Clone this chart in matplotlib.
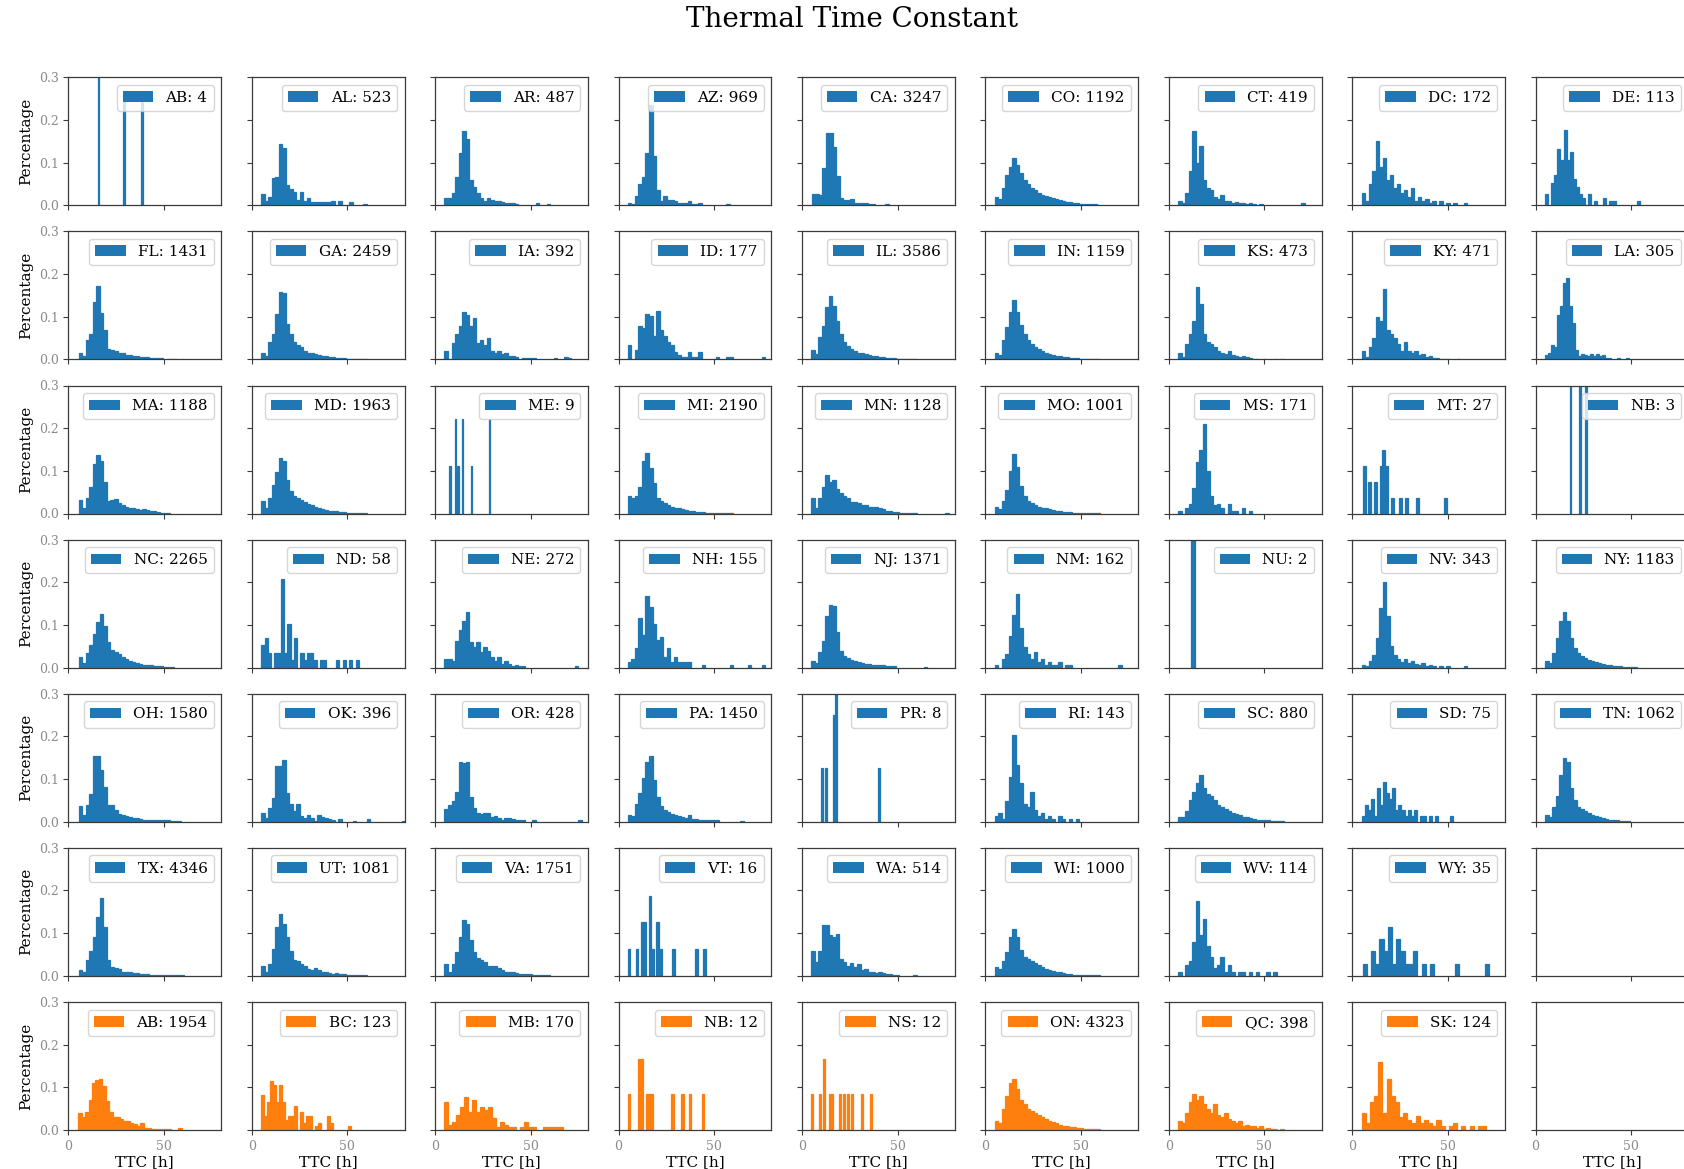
import numpy as np
import matplotlib
matplotlib.use("Agg")
import matplotlib.pyplot as plt

plt.rcParams['font.family'] = ['DejaVu Serif']

# ---------------- data ----------------
us_states = ["AB", "AL", "AR", "AZ", "CA", "CO", "CT", "DC", "DE",
             "FL", "GA", "IA", "ID", "IL", "IN", "KS", "KY", "LA",
             "MA", "MD", "ME", "MI", "MN", "MO", "MS", "MT", "NB",
             "NC", "ND", "NE", "NH", "NJ", "NM", "NU", "NV", "NY",
             "OH", "OK", "OR", "PA", "PR", "RI", "SC", "SD", "TN",
             "TX", "UT", "VA", "VT", "WA", "WI", "WV", "WY"]
us_counts = [4, 523, 487, 969, 3247, 1192, 419, 172, 113,
             1431, 2459, 392, 177, 3586, 1159, 473, 471, 305,
             1188, 1963, 9, 2190, 1128, 1001, 171, 27, 3,
             2265, 58, 272, 155, 1371, 162, 2, 343, 1183,
             1580, 396, 428, 1450, 8, 143, 880, 75, 1062,
             4346, 1081, 1751, 16, 514, 1000, 114, 35]
# first bin edge [h] and bin width [h] of each histogram
us_bin_start = [15.5, 4.9, 4.9, 4.9, 5.05, 5.0, 5.0, 5.0, 5.05,
                5.5, 4.9, 4.9, 4.9, 4.9, 5.0, 5.0, 5.0, 5.05,
                5.5, 4.9, 7.4, 4.9, 4.9, 5.0, 5.0, 5.6, 17.8,
                5.5, 5.0, 4.9, 4.9, 4.9, 5.0, 11.5, 5.0, 5.0,
                5.5, 4.9, 4.9, 4.9, 10.2, 5.0, 5.0, 5.0, 5.0,
                5.5, 4.9, 4.9, 4.9, 4.9, 5.0, 5.0, 5.5]
us_bin_width = [0.78, 1.84, 1.84, 1.84, 1.84, 1.84, 1.84, 1.84, 1.6,
                1.84, 1.84, 1.84, 1.84, 1.84, 1.84, 1.84, 1.84, 1.57,
                1.84, 1.84, 0.713, 1.84, 1.84, 1.84, 1.84, 1.47, 0.82,
                1.84, 1.7, 1.84, 1.84, 1.84, 1.84, 2.3, 1.84, 1.84,
                1.84, 1.84, 1.84, 1.84, 1.013, 1.84, 1.84, 1.6, 1.84,
                1.84, 1.84, 1.84, 1.36, 1.84, 1.84, 1.84, 2.2]
# bin heights in percent of the state's samples
us_pct = [
    [50, 0, 0, 0, 0, 0, 0, 0, 0, 0, 0, 0, 0, 0, 0, 0, 0, 25, 0, 0, 0, 0, 0, 0, 0, 0, 0, 0, 0, 25],
    [2.7, 1.0, 2.0, 6.3, 6.6, 14.4, 13.4, 4.8, 3.8, 3.2, 1.3, 3.1, 1.0, 1.7, 0.8, 0.7, 0.7, 0.7, 0.8, 0.8, 0.9, 0, 0.9, 0, 0, 0.7, 0, 0, 0, 0.2],
    [1.6, 1.8, 2.8, 6.7, 12.2, 17.3, 15.5, 5.9, 4.4, 2.8, 1.8, 1.0, 1.6, 1.2, 0.9, 1.0, 0.8, 0.6, 0.5, 0.6, 0.4, 0, 0, 0, 0, 0, 0.6, 0, 0, 0.2],
    [0.5, 0.3, 2.2, 4.9, 6.7, 12.2, 23.5, 11.6, 3.6, 1.1, 2.2, 1.25, 1.25, 0.9, 0.5, 0.6, 0.6, 0.9, 0.4, 0.4, 0.5, 0, 0, 0, 0, 0, 0, 0, 0.25, 0],
    [2.6, 2.6, 2.4, 8.7, 16.9, 16.9, 13.6, 6.9, 1.6, 1.25, 1.25, 1.4, 0.5, 0.5, 0.5, 0.5, 0.4, 0.4, 0, 0, 0, 0.2],
    [2, 1.5, 4, 7, 9, 11, 9.5, 7.5, 6, 5, 4, 3.5, 3, 2.5, 2.2, 2, 1.6, 1.4, 1.2, 1, 0.8, 0.7, 0.6, 0.5, 0.4, 0.3, 0.3, 0.2, 0.2, 0.1],
    [1, 0.5, 3, 8, 17.5, 10, 14, 6, 4, 3.5, 2, 1.5, 2.5, 1, 1, 0.5, 0.7, 0.5, 0.5, 0.2, 0.5, 0.2, 0, 0.2, 0, 0, 0, 0, 0, 0, 0, 0, 0, 0, 0, 0.5],
    [3, 1, 5, 8, 15, 9, 11, 6, 7, 4, 5, 3, 3.5, 2, 4, 1, 2, 1, 1.5, 0.6, 1, 0, 1, 0, 0.6, 0, 0.6, 0, 0, 0.6],
    [2.7, 0, 5.3, 7.1, 13.3, 10.6, 17.7, 10.6, 12.4, 6.2, 4.4, 2.7, 1.8, 0, 2.7, 0, 0.9, 0, 0, 1.8, 0, 0.9, 0.9, 0, 0, 0, 0, 0, 0, 0, 0.9],
    [1.4, 0.9, 4.5, 5.9, 13.4, 17.1, 10.8, 7.0, 2.4, 2.1, 2.0, 1.6, 1.4, 1.1, 1.0, 0.9, 0.7, 0.6, 0.5, 0.5, 0.4, 0.3, 0.3, 0.3, 0, 0.2, 0.2, 0.2, 0, 0.2],
    [1.4, 0.9, 4.0, 5.9, 10.6, 15.9, 15.5, 8.3, 5.9, 4.0, 3.4, 2.8, 1.9, 1.6, 1.4, 1.25, 1.1, 0.9, 0.7, 0.6, 0.5, 0.4, 0.3, 0.3, 0.2, 0.2, 0.2, 0.2, 0.1, 0.1],
    [2.0, 0, 3.8, 5.9, 7.9, 11.2, 10.5, 7.9, 9.7, 3.8, 4.6, 3.3, 5.1, 2.0, 1.5, 2.0, 1.3, 1.5, 0.8, 0.8, 0.5, 0, 0.3, 0.3, 0.3, 0.3, 0, 0, 0, 0, 0, 0.3, 0, 0, 0.5, 0.3],
    [3.4, 0, 2.3, 7.9, 7.3, 10.7, 10.2, 5.6, 11.3, 6.8, 5.6, 4.0, 3.4, 1.7, 1.1, 0.6, 0.6, 1.7, 0.6, 0.6, 1.7, 0, 0, 0, 0, 0.6, 0, 0, 0.6, 0.6, 0, 0, 0, 0, 0, 0, 0, 0, 0.6],
    [2.2, 1.25, 5.2, 7.9, 12.2, 14.8, 12.4, 9.1, 5.9, 4.1, 3.2, 2.4, 1.9, 1.6, 1.4, 1.25, 1.1, 0.9, 0.8, 0.6, 0.5, 0.4, 0.3, 0.25, 0.2, 0.2, 0.1, 0.1, 0.1, 0.1],
    [1.5, 1.0, 4.5, 7.5, 11, 14, 11, 8, 6, 4.5, 3.5, 3, 2.5, 2, 1.6, 1.3, 1.1, 0.9, 0.7, 0.6, 0.5, 0.4, 0.3, 0.3, 0.2, 0.2, 0.1, 0.1, 0.1, 0.1],
    [1.5, 0.5, 3.5, 6, 9, 17, 13, 6, 4, 3.5, 3, 2, 1.5, 1.2, 2, 1, 0.8, 0.6, 0.8, 0.5, 0.4, 0.2, 0.2, 0, 0.2, 0, 0, 0.2, 0, 0.2],
    [2, 0.5, 3, 5, 10, 9, 16.5, 7, 6, 5, 3.5, 2, 4, 2, 1.5, 2, 1, 1.2, 0.6, 0.8, 0.4, 0.4, 0.2, 0.2, 0.2, 0, 0, 0.2],
    [1.0, 1.6, 3.3, 3.0, 10.5, 12.5, 18.0, 19.0, 12.5, 8.5, 2.3, 0.7, 1.3, 1.0, 0.7, 1.3, 0.7, 1.3, 0.7, 1.0, 0.3, 0.3, 0, 0, 0.3, 0, 0, 0.3],
    [3.2, 1.25, 3.6, 6.3, 11.6, 13.75, 12.2, 7.5, 3.0, 3.2, 3.4, 2.4, 2.0, 1.6, 1.4, 1.25, 1.0, 0.8, 1.1, 0.9, 0.6, 0.5, 0.4, 0.2, 0.1, 0.1],
    [3.0, 1.25, 3.6, 6.7, 9.8, 13.1, 12.2, 7.9, 5.2, 4.0, 3.6, 3.2, 2.7, 2.2, 1.9, 1.6, 1.4, 1.1, 0.9, 0.7, 0.55, 0.5, 0.4, 0.3, 0.2, 0.2, 0.2, 0.2, 0.1, 0.1],
    [11.1, 0, 0, 0, 22.2, 0, 11.1, 0, 0, 22.2, 0, 0, 0, 0, 0, 0, 11.1, 0, 0, 0, 0, 0, 0, 0, 0, 0, 0, 0, 0, 22.2],
    [4.2, 3.6, 4.0, 6.3, 12.2, 14.1, 10.6, 7.1, 3.6, 3.0, 2.4, 2.0, 1.6, 1.4, 1.25, 1.0, 0.8, 0.6, 0.5, 0.4, 0.3, 0.25, 0.2, 0.2, 0.1, 0.1, 0.1, 0.1, 0.1, 0.1],
    [3.6, 1.4, 3.6, 6.3, 9.1, 7.5, 7.9, 5.8, 4.8, 4.0, 3.6, 2.8, 2.7, 2.4, 1.9, 1.9, 1.6, 1.6, 1.6, 1.4, 1.0, 0.6, 0.5, 0.3, 0.3, 0.2, 0.2, 0.2, 0.2, 0.2, 0, 0, 0, 0, 0, 0, 0, 0, 0.2],
    [1.5, 1.0, 3, 5.5, 10, 14, 11, 6.5, 4, 3, 2.5, 2, 1.6, 1.4, 1.2, 1, 0.8, 0.6, 0.5, 0.4, 0.3, 0.3, 0.2, 0.2, 0.1, 0.1, 0.1, 0.1, 0.1, 0.1],
    [0.6, 0, 1.2, 2.3, 6, 12, 15, 21, 10, 4, 2, 2.3, 1.2, 0, 2.3, 0.6, 0.6, 0, 1.2, 0, 0.6],
    [11.1, 0, 7.4, 0, 7.4, 0, 11.1, 14.8, 11.1, 0, 3.7, 0, 0, 3.7, 0, 3.7, 0, 0, 0, 3.7, 0, 0, 0, 0, 0, 0, 0, 0, 0, 3.7],
    [33.3, 0, 0, 0, 0, 0, 33.3, 0, 0, 0, 33.3],
    [2.4, 1.0, 3.4, 5.2, 7.9, 10.6, 12.6, 9.8, 5.9, 4.2, 3.6, 3.2, 2.6, 2.0, 1.5, 1.4, 1.1, 0.9, 0.6, 0.6, 0.5, 0.4, 0.3, 0.3, 0.2, 0.1, 0.1],
    [5.2, 6.9, 3.4, 0, 3.4, 3.4, 20.7, 3.4, 10.3, 1.7, 6.9, 0, 3.4, 1.7, 3.4, 3.4, 1.7, 0, 1.7, 1.7, 0, 0, 0, 1.7, 0, 1.7, 0, 1.7, 0, 1.7],
    [2.0, 2.0, 1.5, 6.3, 8.7, 11.0, 13.1, 5.9, 4.8, 5.9, 3.6, 4.8, 4.0, 2.4, 1.5, 2.4, 0.8, 1.5, 0.8, 0.4, 0.7, 0.4, 0.4, 0, 0, 0, 0, 0, 0, 0, 0, 0, 0, 0, 0, 0, 0, 0.4],
    [1.3, 1.9, 4.5, 11.6, 7.7, 16.8, 14.2, 10.3, 6.5, 7.1, 2.6, 4.5, 1.3, 2.6, 1.3, 1.3, 1.3, 1.3, 0, 0, 0, 0.65, 0, 0, 0, 0, 0, 0, 0, 0.65, 0, 0, 0, 0, 0.65, 0, 0, 0, 0.65],
    [1.6, 1.0, 3.6, 6.3, 12.2, 14.7, 14.4, 8.4, 4.0, 2.8, 2.2, 1.8, 1.6, 1.25, 1.1, 0.9, 0.8, 0.6, 0.6, 0.5, 0.5, 0.4, 0.3, 0.3, 0, 0, 0, 0, 0, 0, 0, 0, 0.2],
    [0.6, 0, 1.9, 3.1, 7.4, 12.3, 17.3, 9.3, 4.9, 3.1, 1.9, 3.7, 1.2, 1.9, 0.6, 1.2, 0.6, 0.6, 1.2, 0, 0.6, 0.6, 0, 0, 0, 0, 0, 0, 0, 0, 0, 0, 0, 0, 0, 0.6],
    [100],
    [0.6, 0.3, 1.5, 3, 7, 14, 20, 12, 5, 3, 2, 1.2, 2, 1, 1.5, 0.9, 0.6, 1, 0.3, 0.6, 0.3, 0, 0.3, 0, 0.3, 0, 0, 0, 0, 0.3],
    [1.5, 1, 3.5, 7, 11, 13, 11, 7, 4.5, 3.5, 2.8, 2.2, 1.8, 1.5, 1.2, 1, 0.8, 0.6, 0.5, 0.4, 0.3, 0.3, 0.2, 0.2, 0.1, 0.1],
    [3.75, 1.6, 4.0, 6.6, 15.5, 15.3, 12.2, 8.1, 4.0, 3.8, 2.7, 1.9, 1.6, 1.25, 1.1, 0.9, 0.8, 0.6, 0.5, 0.5, 0.4, 0.4, 0.3, 0.3, 0.3, 0.3, 0.2, 0.2, 0.2],
    [2.0, 0.8, 3.2, 5.5, 13.0, 13.1, 14.5, 6.7, 4.2, 2.4, 4.2, 1.4, 0.9, 1.5, 0.9, 0.25, 1.5, 1.0, 0.8, 0.6, 0.5, 0, 0.6, 0, 0, 0, 0.25, 0, 0, 0, 0.6, 0, 0, 0, 0, 0, 0, 0, 0, 0, 0.25],
    [3.0, 4.0, 4.8, 6.9, 13.9, 13.75, 13.9, 5.9, 3.2, 2.0, 1.9, 2.0, 2.0, 1.1, 1.4, 0.9, 0.5, 0.9, 0.8, 0.6, 0.5, 0.3, 0.3, 0, 0, 0.3, 0, 0, 0, 0, 0, 0, 0, 0, 0, 0, 0, 0, 0.5],
    [1.6, 1.25, 4.2, 6.7, 10.2, 14.1, 15.5, 9.8, 5.9, 3.6, 2.8, 2.2, 1.9, 1.6, 1.4, 1.1, 0.9, 1.5, 0.6, 0.6, 0.5, 0.5, 0.4, 0.3, 0.3, 0.3, 0, 0, 0, 0, 0, 0, 0.2],
    [12.5, 0, 12.5, 0, 0, 0, 25, 37.5, 0, 0, 0, 0, 0, 0, 0, 0, 0, 0, 0, 0, 0, 0, 0, 0, 0, 0, 0, 0, 0, 12.5],
    [1.4, 2.1, 0.7, 4.9, 10.5, 20.3, 13.3, 9.1, 4.2, 3.5, 7.0, 2.8, 1.4, 2.1, 0.7, 1.4, 0.7, 0, 1.4, 0.7, 0, 0.7, 0, 0.7],
    [1, 1, 2.5, 5, 7, 9, 11, 8, 6.5, 6, 5, 4, 3.5, 3, 2.5, 2, 1.8, 1.5, 1.2, 1, 0.8, 0.6, 0.5, 0.4, 0.3, 0.3, 0.2, 0.2, 0.1, 0.1],
    [1.3, 4, 2.7, 5.3, 1.3, 8, 4, 9.3, 6.7, 5.3, 8, 2.7, 4, 2.7, 1.3, 2.7, 1.3, 2.7, 0, 1.3, 1.3, 0, 1.3, 0, 1.3, 0, 0, 0, 0, 1.3],
    [1.5, 1, 3.5, 6, 11, 15, 14, 8, 5, 3.5, 3, 2.5, 2, 1.6, 1.3, 1, 0.8, 0.6, 0.5, 0.4, 0.3, 0.2, 0.2, 0.1],
    [1.4, 0.9, 3.75, 5.9, 9.1, 13.75, 18.3, 11.4, 3.75, 2.0, 1.9, 1.5, 1.0, 1.0, 0.9, 0.7, 0.6, 0.5, 0.45, 0.4, 0.3, 0.3, 0.2, 0.2, 0.15, 0.1, 0.1, 0.1, 0.1, 0.1],
    [2.4, 0.9, 2.8, 6.3, 11.4, 14.5, 12.2, 9.1, 5.9, 3.6, 3.4, 2.8, 2.2, 1.6, 1.4, 1.9, 1.4, 1.0, 0.9, 0.6, 0.5, 0.6, 0.5, 0.4, 0.3, 0.2, 0.2, 0.2, 0.2, 0.2],
    [2.8, 0.9, 2.8, 5.5, 9.1, 13.0, 12.2, 8.3, 5.5, 4.2, 3.6, 3.2, 2.4, 2.2, 2.3, 1.8, 1.4, 1.0, 0.9, 0.8, 0.6, 0.5, 0.45, 0.4, 0.35, 0.3, 0.3, 0.2, 0.2, 0.2],
    [6.25, 0, 0, 6.25, 0, 12.5, 12.5, 0, 18.75, 6.25, 0, 12.5, 6.25, 0, 0, 0, 0, 6.25, 0, 0, 0, 0, 0, 0, 0, 0, 6.25, 0, 0, 6.25],
    [5.9, 3.2, 5.9, 11.8, 12.0, 9.5, 9.1, 9.8, 4.0, 3.2, 2.4, 3.0, 2.0, 2.8, 1.25, 1.6, 0.8, 0.8, 0.6, 0.8, 0.6, 0.4, 0.4, 0.2, 0.2, 0, 0, 0, 0, 0.2],
    [2, 1.5, 3.5, 5.5, 9, 11, 9, 6, 4.5, 4, 3.5, 3, 2.5, 2, 1.6, 1.4, 1.2, 1, 0.8, 0.6, 0.5, 0.4, 0.3, 0.3, 0.2, 0.2, 0.1, 0.1, 0.1, 0.1],
    [0.9, 0, 2.6, 3.5, 7.9, 17.5, 9.6, 13.2, 7.0, 4.4, 1.8, 2.6, 4.4, 0.9, 2.6, 0.9, 0, 0.9, 0.9, 0, 0.9, 0, 0.9, 0, 0, 0.9, 0, 0.9],
    [2.86, 0, 5.7, 2.86, 8.6, 5.7, 11.4, 2.86, 8.6, 5.7, 2.86, 2.86, 5.7, 0, 2.86, 0, 2.86, 0, 0, 0, 0, 0, 2.86, 0, 0, 0, 0, 0, 0, 2.86],
]

ca_provinces = ["AB", "BC", "MB", "NB", "NS", "ON", "QC", "SK"]
ca_counts = [1954, 123, 170, 12, 12, 4323, 398, 124]
ca_bin_start = [5.2, 4.9, 4.9, 4.9, 4.9, 5.0, 5.0, 5.0]
ca_bin_width = [1.8, 1.57, 2.07, 1.33, 1.05, 1.84, 1.84, 2.17]
ca_pct = [
    [3.9, 3.1, 4.1, 7.0, 10.9, 11.7, 12.0, 10.3, 6.8, 4.3, 3.1, 3.0, 2.5, 2.0, 2.2, 1.6, 1.3, 1.0, 1.7, 0.5, 0.4, 0.2, 0.2, 0.2, 0.2, 0.2, 0.1, 0, 0, 0.5],
    [8.1, 3.3, 6.5, 11.4, 10.6, 6.5, 10.6, 6.5, 2.4, 3.3, 3.3, 5.7, 0, 4.1, 1.6, 3.3, 3.3, 0, 0.8, 1.6, 0, 0, 3.3, 1.6, 0, 0, 0, 0, 0, 0.8],
    [6.5, 1.2, 1.8, 3.5, 5.3, 7.6, 4.1, 7.1, 4.1, 5.3, 4.7, 5.3, 2.9, 0.6, 1.8, 1.2, 0.6, 0.6, 0, 0.6, 1.8, 0.6, 0.6, 0, 0, 0.6, 0.6, 0.6, 0.6, 0.6],
    [8.3, 0, 0, 0, 16.7, 16.7, 0, 8.3, 8.3, 8.3, 0, 0, 0, 0, 0, 0, 0, 8.3, 0, 0, 0, 8.3, 0, 0, 8.3, 0, 0, 0, 0, 8.3],
    [8.3, 0, 0, 0, 8.3, 0, 16.7, 0, 0, 8.3, 8.3, 0, 0, 0, 8.3, 0, 8.3, 0, 8.3, 0, 8.3, 0, 0, 0, 0, 8.3, 0, 0, 0, 8.3],
    [2, 1.5, 5, 8, 11, 12, 9.5, 7, 6, 5, 4.5, 4, 3.5, 3, 2.5, 2.2, 1.8, 1.5, 1.2, 1, 0.8, 0.7, 0.6, 0.5, 0.4, 0.3, 0.3, 0.2, 0.2, 0.1],
    [2, 1.5, 4, 6.5, 8.5, 7, 8, 6, 5, 4, 6, 3.5, 3, 4, 2.5, 2, 1.5, 2, 1, 1.2, 1, 0.8, 0.5, 0.8, 0.3, 0.5, 0.3, 0.3, 0, 0.3],
    [4, 1.6, 6.5, 8, 16, 4, 12, 8, 6.5, 3, 4, 2.4, 1.6, 3.2, 1.6, 2.4, 1.6, 0.8, 2.4, 0.8, 0, 0.8, 1.6, 0, 0.8, 0, 0.8, 0, 0.8, 0.8],
]

x_ticks = [0, 50]
y_ticks = [0.0, 0.1, 0.2, 0.3]
US_COLOR = "#1f77b4"
CA_COLOR = "#ff7f0e"

# ---------------- figure ----------------
W, H = 1684, 1169
fig = plt.figure(figsize=(W / 100, H / 100), dpi=100)

n_rows, n_cols = 7, 9
ax_w, ax_h = 153, 128
x0, dx = 68.3, 183.4
y0, dy = 77.3, 154.1

panels = []
for lab, n, s, w, p in zip(us_states, us_counts, us_bin_start, us_bin_width, us_pct):
    panels.append((lab, n, s, w, p, US_COLOR))
# the last slot of the US rows stays empty
panels.append(None)
for lab, n, s, w, p in zip(ca_provinces, ca_counts, ca_bin_start, ca_bin_width, ca_pct):
    panels.append((lab, n, s, w, p, CA_COLOR))
panels.append(None)

spine_col = "#3a3a3a"
tick_col = "#8a8a8a"

for idx in range(n_rows * n_cols):
    r, c = divmod(idx, n_cols)
    left = (x0 + c * dx) / W
    bottom = 1 - (y0 + r * dy + ax_h) / H
    ax = fig.add_axes([left, bottom, ax_w / W, ax_h / H])
    item = panels[idx] if idx < len(panels) else None
    if item is not None:
        lab, n, s, w, p, col = item
        p = np.asarray(p, dtype=float)
        edges = s + w * np.arange(len(p) + 1)
        centers = 0.5 * (edges[:-1] + edges[1:])
        _, _, patches = ax.hist(centers, bins=edges, weights=p / 100.0,
                                color=col, edgecolor=col, linewidth=0.9,
                                label=f"{lab}: {n}")
        for patch, v in zip(patches, p):
            if v == 0:
                patch.set_visible(False)
        leg = ax.legend(loc="upper right", fontsize=11)
        for h in leg.legend_handles:
            h.set_linewidth(0)
    ax.set_xlim(0, 80)
    ax.set_ylim(0, 0.3)
    ax.set_xticks(x_ticks)
    ax.set_yticks(y_ticks)
    for sp in ax.spines.values():
        sp.set_color(spine_col)
        sp.set_linewidth(0.9)
    ax.tick_params(colors=spine_col, labelcolor=tick_col, labelsize=9,
                   length=3.5, width=0.8)
    if c == 0:
        ax.set_ylabel("Percentage", fontsize=11)
    else:
        ax.set_yticklabels([])
    if r == n_rows - 1:
        ax.set_xlabel("TTC [h]", fontsize=11, labelpad=2)
    else:
        ax.set_xticklabels([])

fig.text(852 / W, 1 - 19.5 / H, "Thermal Time Constant", ha="center",
         va="center", fontsize=20)

fig.savefig("out.png", dpi=100)
